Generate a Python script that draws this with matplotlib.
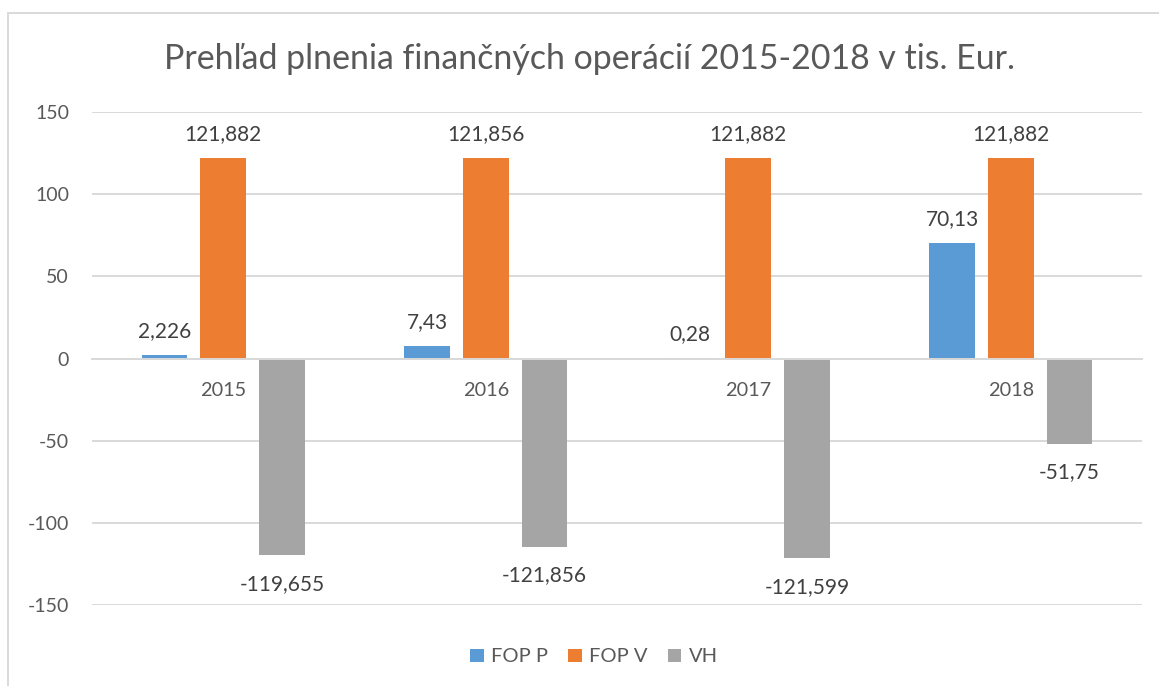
import numpy as np
import matplotlib
matplotlib.use("Agg")
import matplotlib.pyplot as plt
from matplotlib.patches import Rectangle

plt.rcParams['font.family'] = ['Lato', 'DejaVu Sans']
plt.rcParams['axes.unicode_minus'] = False

title = "Prehľad plnenia finančných operácií 2015-2018 v tis. Eur."
categories = ["2015", "2016", "2017", "2018"]
series_names = ["FOP P", "FOP V", "VH"]
fop_p = [2.226, 7.43, 0.28, 70.13]
fop_v = [121.882, 121.856, 121.882, 121.882]
vh = [-119.655, -114.426, -121.599, -51.75]
fop_p_labels = ["2,226", "7,43", "0,28", "70,13"]
fop_v_labels = ["121,882", "121,856", "121,882", "121,882"]
vh_labels = ["-119,655", "-121,856", "-121,599", "-51,75"]
yticks = [-150, -100, -50, 0, 50, 100, 150]

colors = ["#5B9BD5", "#ED7D31", "#A5A5A5"]
W, H = 1159, 686
fig = plt.figure(figsize=(W / 100, H / 100), dpi=100)
ax = fig.add_axes([92 / W, 1 - 605 / H, (1142 - 92) / W, (605 - 112) / H])

x = np.arange(len(categories))
pitch = 0.2236
bw = 0.174
all_vals = [fop_p, fop_v, vh]
all_labels = [fop_p_labels, fop_v_labels, vh_labels]
for k, (vals, labs) in enumerate(zip(all_vals, all_labels)):
    xs = x + (k - 1) * pitch
    ax.bar(xs, vals, width=bw, color=colors[k], label=series_names[k], zorder=2)
    for xi, v, lab in zip(xs, vals, labs):
        off = 24 if v >= 0 else -29
        ax.annotate(lab, (xi, v), xytext=(0, off * 0.72), textcoords='offset points',
                    ha='center', va='center', fontsize=15, color='#404040')

ax.set_xlim(-0.5, len(categories) - 0.5)
ax.set_ylim(-150, 150)
ax.set_yticks(yticks)
ax.set_yticklabels([str(t) for t in yticks])
ax.set_xticks(x)
ax.set_xticklabels(categories)
ax.yaxis.grid(True, color='#D9D9D9', linewidth=1.4, zorder=0)
ax.set_axisbelow(True)
for s in ['top', 'right', 'left']:
    ax.spines[s].set_visible(False)
ax.spines['bottom'].set_position(('data', 0))
ax.spines['bottom'].set_color('#D9D9D9')
ax.spines['bottom'].set_linewidth(1.4)
ax.tick_params(axis='y', length=0, pad=16.5, labelsize=14, labelcolor='#595959')
ax.tick_params(axis='x', length=0, pad=17, labelsize=14.3, labelcolor='#595959')

fig.text(590 / W, 1 - 69 / H, title, ha='center', va='baseline', fontsize=24.4, color='#595959')

leg = fig.legend(loc='center', bbox_to_anchor=(594 / W, 1 - 657 / H), ncol=3, frameon=False,
                 fontsize=14.5, handlelength=0.68, handleheight=0.68, handletextpad=0.35,
                 columnspacing=1.0, labelcolor='#595959')

fig.add_artist(Rectangle((8 / W, -0.5), 2.0, 1 - 13 / H + 0.5, transform=fig.transFigure,
                         fill=False, edgecolor='#D9D9D9', linewidth=1.4))

fig.savefig("out.png", dpi=100)
